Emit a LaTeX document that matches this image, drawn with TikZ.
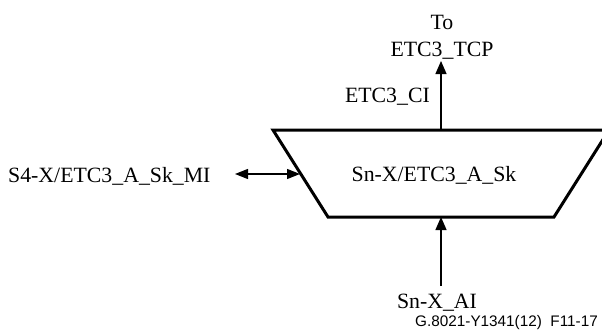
\documentclass[tikz,border=0pt]{standalone}
\usepackage{fontspec}
\setmainfont{Liberation Serif}
\newfontfamily\labsans{Liberation Sans}
\usetikzlibrary{arrows.meta}
\begin{document}
\begin{tikzpicture}[x=1pt,y=-1pt,
  lbl/.style={font=\fontsize{21.8}{25}\selectfont, inner sep=0pt},
  conn/.style={line width=1.3pt, -{Triangle[length=13pt,width=11pt]}},
  biconn/.style={line width=1.3pt, {Triangle[length=13pt,width=10pt]}-{Triangle[length=13pt,width=10pt]}},
  fn/.style={line width=3pt, line join=miter}]
\useasboundingbox (0,0) rectangle (602,332);
% trapezoid
\draw[fn] (273,130) -- (609,130) -- (554,217) -- (328,217) -- cycle;
\node[lbl] (fun) at (434,175) {Sn-X/ETC3\_A\_Sk};
\coordinate (top) at (441,130);
\coordinate (bot) at (441,217);
\coordinate (lft) at (300,174);
% top
\node[lbl, anchor=base] (to) at (442,29) {To};
\node[lbl, anchor=base] (tcp) at (442,56) {ETC3\_TCP};
\coordinate (toptip) at (441,61);
\draw[conn] (top) -- (toptip);
\node[lbl, anchor=base east] (ci) at (430,102) {ETC3\_CI};
% bottom
\coordinate (botstart) at (441,286);
\draw[conn] (botstart) -- (bot);
\node[lbl, anchor=base] (ai) at (437,308) {Sn-X\_AI};
% left
\node[lbl, anchor=base west] (mi) at (8,182) {S4-X/ETC3\_A\_Sk\_MI};
\coordinate (mie) at (235,174);
\draw[biconn] (mie) -- (lft);
% figure id
\node[font=\labsans\fontsize{15.3}{18}\selectfont, inner sep=0pt, anchor=base east] (fid) at (598,326) {G.8021-Y1341(12)\ \ F11-17};
\end{tikzpicture}
\end{document}
